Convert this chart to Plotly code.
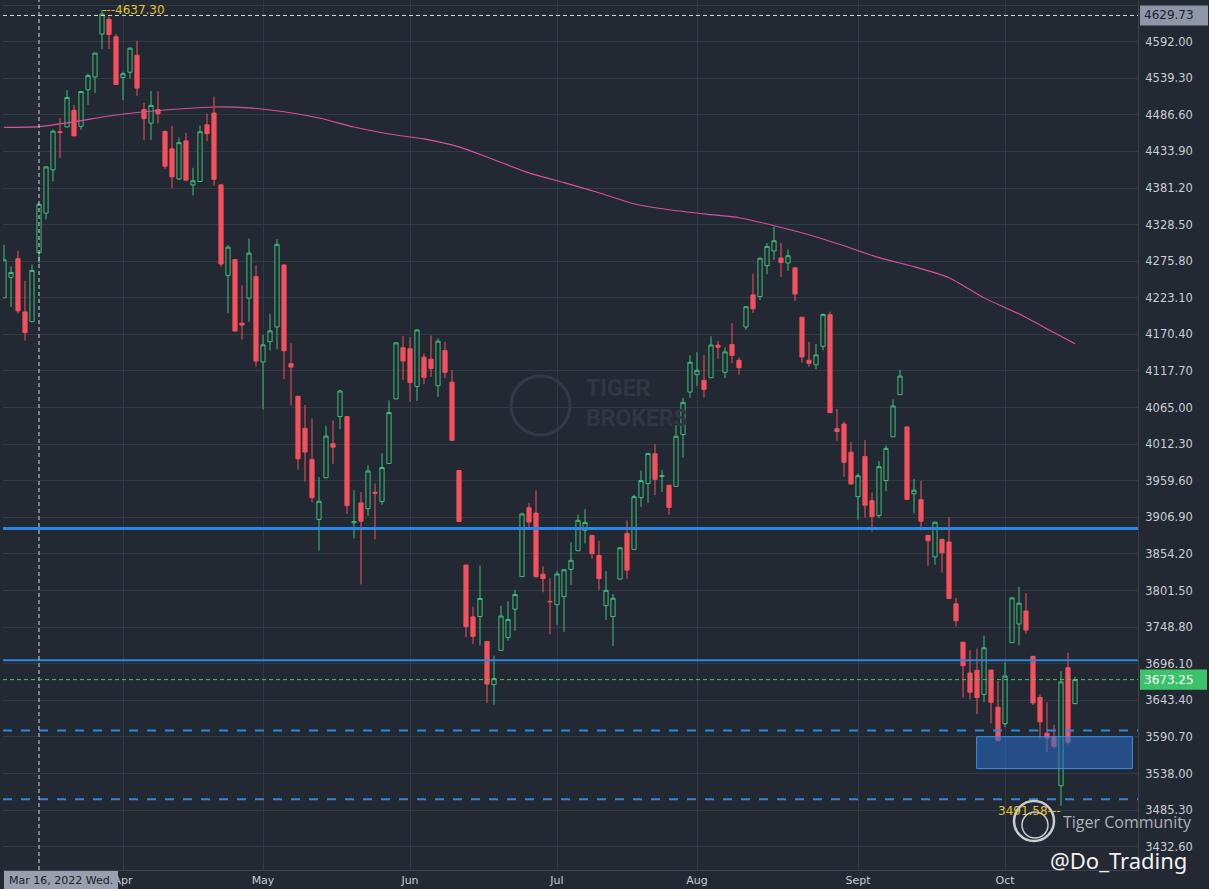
import plotly.graph_objects as go

# ---------------- data ----------------
dates = [
    "2022-03-09", "2022-03-10", "2022-03-11", "2022-03-14", "2022-03-15", "2022-03-16", "2022-03-17", "2022-03-18",
    "2022-03-21", "2022-03-22", "2022-03-23", "2022-03-24", "2022-03-25", "2022-03-28", "2022-03-29", "2022-03-30",
    "2022-03-31",
    "2022-04-01", "2022-04-04", "2022-04-05", "2022-04-06", "2022-04-07", "2022-04-08", "2022-04-11", "2022-04-12",
    "2022-04-13", "2022-04-14", "2022-04-18", "2022-04-19", "2022-04-20", "2022-04-21", "2022-04-22", "2022-04-25",
    "2022-04-26", "2022-04-27", "2022-04-28", "2022-04-29",
    "2022-05-02", "2022-05-03", "2022-05-04", "2022-05-05", "2022-05-06", "2022-05-09", "2022-05-10", "2022-05-11",
    "2022-05-12", "2022-05-13", "2022-05-16", "2022-05-17", "2022-05-18", "2022-05-19", "2022-05-20", "2022-05-23",
    "2022-05-24", "2022-05-25", "2022-05-26", "2022-05-27", "2022-05-31",
    "2022-06-01", "2022-06-02", "2022-06-03", "2022-06-06", "2022-06-07", "2022-06-08", "2022-06-09", "2022-06-10",
    "2022-06-13", "2022-06-14", "2022-06-15", "2022-06-16", "2022-06-17", "2022-06-21", "2022-06-22", "2022-06-23",
    "2022-06-24", "2022-06-27", "2022-06-28", "2022-06-29", "2022-06-30",
    "2022-07-01", "2022-07-05", "2022-07-06", "2022-07-07", "2022-07-08", "2022-07-11", "2022-07-12", "2022-07-13",
    "2022-07-14", "2022-07-15", "2022-07-18", "2022-07-19", "2022-07-20", "2022-07-21", "2022-07-22", "2022-07-25",
    "2022-07-26", "2022-07-27", "2022-07-28", "2022-07-29",
    "2022-08-01", "2022-08-02", "2022-08-03", "2022-08-04", "2022-08-05", "2022-08-08", "2022-08-09", "2022-08-10",
    "2022-08-11", "2022-08-12", "2022-08-15", "2022-08-16", "2022-08-17", "2022-08-18", "2022-08-19", "2022-08-22",
    "2022-08-23", "2022-08-24", "2022-08-25", "2022-08-26", "2022-08-29", "2022-08-30", "2022-08-31",
    "2022-09-01", "2022-09-02", "2022-09-06", "2022-09-07", "2022-09-08", "2022-09-09", "2022-09-12", "2022-09-13",
    "2022-09-14", "2022-09-15", "2022-09-16", "2022-09-19", "2022-09-20", "2022-09-21", "2022-09-22", "2022-09-23",
    "2022-09-26", "2022-09-27", "2022-09-28", "2022-09-29", "2022-09-30",
    "2022-10-03", "2022-10-04", "2022-10-05", "2022-10-06", "2022-10-07", "2022-10-10", "2022-10-11", "2022-10-12",
    "2022-10-13", "2022-10-14", "2022-10-17",
]

opens = [
    4223.10, 4252.55, 4279.50, 4202.75, 4188.82, 4288.14, 4345.11, 4407.34,
    4462.40, 4469.10, 4493.10, 4469.98, 4522.66, 4541.09, 4602.86, 4624.20,
    4599.02,
    4540.32, 4547.97, 4572.45, 4494.17, 4474.65, 4494.15, 4462.64, 4437.59,
    4394.30, 4449.12, 4385.63, 4390.63, 4472.26, 4489.17, 4385.83, 4255.34,
    4278.14, 4186.52, 4222.58, 4253.75,
    4130.61, 4159.78, 4181.18, 4270.43, 4128.17, 4081.27, 4035.18, 3990.08,
    3903.95, 3963.90, 4013.02, 4052.00, 4051.98, 3899.00, 3927.76, 3919.42,
    3942.94, 3929.59, 3984.60, 4077.43, 4151.09,
    4149.78, 4095.41, 4137.57, 4134.72, 4096.47, 4147.12, 4101.65, 3974.39,
    3838.15, 3763.52, 3764.05, 3728.18, 3665.90, 3715.31, 3733.89, 3774.71,
    3821.75, 3920.76, 3913.00, 3825.09, 3785.99,
    3781.00, 3792.61, 3831.98, 3858.85, 3888.26, 3880.94, 3851.95, 3779.67,
    3763.99, 3818.00, 3883.79, 3860.73, 3935.32, 3955.47, 3998.43, 3965.72,
    3953.22, 3951.43, 4026.13, 4087.33,
    4112.38, 4104.21, 4107.96, 4154.85, 4115.87, 4155.93, 4133.11, 4181.02,
    4227.40, 4225.02, 4269.37, 4290.46, 4280.40, 4273.13, 4266.31, 4195.08,
    4133.09, 4126.55, 4153.26, 4198.74, 4034.58, 4041.25, 4000.67,
    3936.73, 3994.66, 3930.89, 3909.43, 3959.94, 4022.94, 4083.67, 4037.12,
    3940.73, 3932.41, 3880.95, 3849.91, 3875.23, 3871.40, 3782.36, 3727.14,
    3682.72, 3686.44, 3651.94, 3687.01, 3633.48,
    3609.78, 3726.46, 3753.25, 3771.97, 3706.74, 3647.51, 3595.86, 3590.83,
    3520.37, 3690.41, 3638.65,
]

highs = [
    4299.40, 4268.28, 4291.01, 4247.57, 4271.05, 4357.86, 4412.67, 4465.40,
    4481.75, 4522.00, 4501.07, 4520.58, 4546.03, 4575.65, 4637.30, 4627.77,
    4603.07,
    4548.70, 4583.50, 4593.45, 4503.94, 4521.16, 4520.41, 4464.35, 4471.00,
    4453.92, 4460.46, 4410.31, 4471.03, 4488.29, 4512.94, 4385.83, 4299.02,
    4278.14, 4240.71, 4308.45, 4269.68,
    4169.81, 4200.10, 4307.66, 4270.43, 4157.69, 4081.27, 4068.82, 4049.09,
    3964.80, 4038.88, 4046.46, 4090.72, 4051.98, 3945.96, 3943.42, 3981.88,
    3955.68, 3999.33, 4075.14, 4158.49, 4168.34,
    4166.54, 4177.51, 4142.67, 4168.78, 4164.86, 4160.14, 4119.10, 3974.39,
    3838.15, 3778.18, 3837.56, 3728.18, 3707.71, 3779.65, 3785.99, 3802.58,
    3913.65, 3927.72, 3945.86, 3836.50, 3818.99,
    3829.82, 3832.19, 3870.91, 3910.63, 3918.50, 3880.94, 3873.41, 3829.44,
    3796.41, 3863.62, 3902.44, 3939.81, 3974.13, 3999.29, 4012.44, 3975.30,
    3953.22, 4039.56, 4078.95, 4140.15,
    4144.95, 4140.47, 4167.66, 4161.29, 4151.58, 4186.62, 4137.30, 4211.03,
    4257.91, 4280.47, 4301.79, 4325.28, 4302.18, 4292.53, 4266.31, 4195.08,
    4159.77, 4156.56, 4200.54, 4203.04, 4062.99, 4044.98, 4015.37,
    3970.23, 4018.43, 3942.55, 3987.89, 4010.50, 4076.81, 4119.28, 4037.12,
    3961.94, 3959.14, 3880.95, 3900.45, 3876.01, 3907.07, 3790.93, 3727.14,
    3715.67, 3717.53, 3736.74, 3687.01, 3671.44,
    3698.35, 3790.93, 3806.91, 3797.93, 3706.74, 3652.17, 3640.66, 3608.34,
    3685.41, 3712.00, 3677.00,
]

lows = [
    4223.10, 4209.80, 4200.49, 4161.72, 4187.90, 4272.85, 4335.65, 4390.57,
    4424.30, 4469.10, 4455.81, 4465.17, 4501.07, 4517.69, 4581.32, 4581.32,
    4530.41,
    4507.57, 4539.21, 4514.17, 4450.04, 4450.30, 4474.60, 4408.38, 4381.34,
    4392.70, 4390.77, 4370.30, 4390.63, 4448.76, 4384.47, 4267.62, 4200.82,
    4175.04, 4162.90, 4188.63, 4124.28,
    4062.51, 4147.08, 4148.91, 4106.01, 4067.91, 3975.48, 3958.17, 3928.82,
    3858.87, 3963.90, 3983.99, 4033.93, 3911.91, 3876.58, 3810.32, 3909.04,
    3875.13, 3925.03, 3984.60, 4077.43, 4104.88,
    4073.85, 4074.37, 4098.67, 4109.18, 4080.19, 4107.20, 4017.17, 3900.16,
    3734.30, 3724.36, 3722.30, 3639.77, 3636.87, 3715.31, 3729.25, 3743.52,
    3821.75, 3889.66, 3820.14, 3799.02, 3738.67,
    3752.10, 3742.06, 3809.37, 3858.85, 3869.34, 3847.22, 3802.36, 3759.07,
    3721.56, 3817.18, 3818.63, 3860.73, 3922.03, 3927.64, 3938.85, 3943.46,
    3910.74, 3951.43, 3992.97, 4079.22,
    4096.02, 4079.81, 4107.96, 4135.42, 4107.31, 4128.97, 4112.09, 4177.26,
    4201.41, 4219.78, 4256.90, 4277.77, 4253.08, 4261.98, 4218.70, 4129.86,
    4124.03, 4119.97, 4147.59, 4057.66, 4017.42, 3965.21, 3954.53,
    3903.65, 3906.21, 3886.75, 3906.03, 3944.81, 4022.94, 4083.67, 3932.69,
    3912.51, 3888.28, 3837.08, 3838.50, 3827.54, 3789.49, 3749.45, 3647.47,
    3644.76, 3623.29, 3640.61, 3610.40, 3584.13,
    3604.93, 3726.46, 3722.66, 3739.22, 3636.66, 3588.10, 3568.45, 3573.86,
    3491.58, 3579.68, 3638.65,
]

closes = [
    4277.88, 4259.52, 4204.31, 4173.11, 4262.45, 4357.86, 4411.67, 4463.12,
    4461.18, 4511.61, 4456.24, 4520.16, 4543.06, 4575.52, 4631.60, 4602.45,
    4530.41,
    4545.86, 4582.64, 4525.12, 4481.15, 4500.21, 4488.28, 4412.53, 4397.45,
    4446.59, 4392.59, 4391.69, 4462.21, 4459.45, 4393.66, 4271.78, 4296.12,
    4175.20, 4183.96, 4287.50, 4131.93,
    4155.38, 4175.48, 4300.17, 4146.87, 4123.34, 3991.24, 4001.05, 3935.18,
    3930.08, 4023.89, 4008.01, 4088.85, 3923.68, 3900.79, 3901.36, 3973.75,
    3941.48, 3978.73, 4057.84, 4158.24, 4132.15,
    4101.23, 4176.82, 4108.54, 4121.43, 4160.68, 4115.77, 4017.82, 3900.86,
    3749.63, 3735.48, 3789.99, 3666.77, 3674.84, 3764.79, 3759.89, 3795.73,
    3911.74, 3900.11, 3821.55, 3818.83, 3785.38,
    3825.33, 3831.39, 3845.08, 3902.62, 3899.38, 3854.43, 3818.80, 3801.78,
    3790.38, 3863.16, 3830.85, 3936.69, 3959.90, 3998.95, 3961.63, 3966.84,
    3921.05, 4023.61, 4072.43, 4130.29,
    4118.63, 4091.19, 4155.17, 4151.94, 4145.19, 4140.06, 4122.47, 4210.24,
    4207.27, 4280.15, 4297.14, 4305.20, 4274.04, 4283.74, 4228.48, 4137.99,
    4128.73, 4140.77, 4199.12, 4057.66, 4030.61, 3986.16, 3955.00,
    3966.85, 3924.26, 3908.19, 3979.87, 4006.18, 4067.36, 4110.41, 3932.69,
    3946.01, 3901.35, 3873.33, 3899.89, 3855.93, 3789.93, 3757.99, 3693.23,
    3655.04, 3647.29, 3719.04, 3640.47, 3585.62,
    3678.43, 3790.93, 3783.28, 3744.52, 3639.66, 3612.39, 3588.84, 3577.03,
    3669.91, 3583.07, 3673.25,
]

# 200-day moving average, read at weekly sample dates
ma_dates = [
    "2022-03-09", "2022-03-16", "2022-03-23", "2022-03-30", "2022-04-06", "2022-04-13", "2022-04-21", "2022-04-28",
    "2022-05-05", "2022-05-12", "2022-05-19", "2022-05-26", "2022-06-03", "2022-06-10", "2022-06-17", "2022-06-27",
    "2022-07-05", "2022-07-12", "2022-07-19", "2022-07-26", "2022-08-02", "2022-08-09", "2022-08-16", "2022-08-23",
    "2022-08-30", "2022-09-07", "2022-09-14", "2022-09-21", "2022-09-28", "2022-10-05", "2022-10-12", "2022-10-17",
]
ma_values = [
    4468.5, 4469.7, 4476.5, 4485.0, 4491.0, 4495.0, 4498.0, 4496.6,
    4491.0, 4482.0, 4469.0, 4459.0, 4452.0, 4440.5, 4422.0, 4403.0,
    4389.0, 4374.5, 4358.6, 4350.0, 4344.0, 4338.5, 4327.0, 4314.0,
    4298.0, 4281.0, 4268.0, 4252.0, 4223.0, 4200.0, 4173.0, 4157.0,
]

# price levels drawn on the chart
support_solid_thick = 3891.0
support_solid = 3701.0
support_dashed = [3600.0, 3501.0]
zone_low, zone_high = 3545.0, 3591.0
zone_start, zone_end = "2022-09-27", "2022-10-17"
crosshair_date = "2022-03-16"
crosshair_price = 4629.73
last_price = 3673.25
high_label = ("2022-03-29", 4637.30)
low_label = ("2022-10-13", 3491.58)

y_ticks = [3432.60, 3485.30, 3538.00, 3590.70, 3643.40, 3696.10, 3748.80, 3801.50, 3854.20, 3906.90,
           3959.60, 4012.30, 4065.00, 4117.70, 4170.40, 4223.10, 4275.80, 4328.50, 4381.20, 4433.90,
           4486.60, 4539.30, 4592.00, 4644.70]
month_labels = {"04": "Apr", "05": "May", "06": "Jun", "07": "Jul", "08": "Aug", "09": "Sept", "10": "Oct"}

# ---------------- figure ----------------
BG = "#232933"
GRID = "#313946"
RED = "#f5505c"
GREEN = "#3fbf78"
BLUE = "#2f86e0"
AXIS_FONT = "DejaVu Sans"

idx = {d: i for i, d in enumerate(dates)}
xs = list(range(len(dates)))

month_pos, month_txt = [], []
seen = set()
for i, d in enumerate(dates):
    m = d[5:7]
    if m in month_labels and m not in seen:
        seen.add(m)
        month_pos.append(i)
        month_txt.append(month_labels[m])

fig = go.Figure()
fig.add_trace(go.Candlestick(
    x=xs, open=opens, high=highs, low=lows, close=closes,
    increasing=dict(line=dict(color=GREEN, width=1), fillcolor=BG),
    decreasing=dict(line=dict(color=RED, width=1), fillcolor=RED),
    whiskerwidth=0, showlegend=False, hoverinfo="skip",
))
fig.add_trace(go.Scatter(
    x=[idx[d] for d in ma_dates], y=ma_values, mode="lines",
    line=dict(color="#d9509a", width=1.1, shape="spline", smoothing=0.6),
    showlegend=False, hoverinfo="skip",
))

shapes = []
shapes.append(dict(type="line", xref="paper", x0=0, x1=1, yref="y", y0=support_solid_thick, y1=support_solid_thick,
                   line=dict(color=BLUE, width=3), layer="above"))
shapes.append(dict(type="line", xref="paper", x0=0, x1=1, yref="y", y0=support_solid, y1=support_solid,
                   line=dict(color=BLUE, width=2), layer="above"))
for v in support_dashed:
    shapes.append(dict(type="line", xref="paper", x0=0, x1=1, yref="y", y0=v, y1=v,
                       line=dict(color=BLUE, width=2, dash="dash"), layer="above"))
shapes.append(dict(type="rect", xref="x", yref="y", x0=idx[zone_start] - 0.05, x1=idx[zone_end] + 8.2,
                   y0=zone_low, y1=zone_high, fillcolor="rgba(38,110,200,0.55)",
                   line=dict(color="#3d8fe8", width=1), layer="above"))
# crosshair
shapes.append(dict(type="line", xref="x", x0=idx[crosshair_date], x1=idx[crosshair_date], yref="paper", y0=0, y1=1,
                   line=dict(color="#d6dae0", width=1, dash="4px,3px"), layer="above"))
shapes.append(dict(type="line", xref="paper", x0=0, x1=1, yref="y", y0=crosshair_price, y1=crosshair_price,
                   line=dict(color="#d6dae0", width=1, dash="4px,3px"), layer="above"))
# last price
shapes.append(dict(type="line", xref="paper", x0=0, x1=1, yref="y", y0=last_price, y1=last_price,
                   line=dict(color="#3fc46e", width=1, dash="4px,3px"), layer="above"))

PLOT_L, PLOT_R, PLOT_T, PLOT_B = 3, 1138, 0, 870


def px_x(p):
    return (p - PLOT_L) / float(PLOT_R - PLOT_L)


def px_y(p):
    return 1 - (p - PLOT_T) / float(PLOT_B - PLOT_T)


# value boxes on the price axis (background rectangles)
shapes.append(dict(type="rect", xref="paper", yref="y", x0=px_x(1140), x1=px_x(1208),
                   y0=crosshair_price - 14.5, y1=crosshair_price + 14.5,
                   fillcolor="#8e97a7", line=dict(width=0), layer="above"))
shapes.append(dict(type="rect", xref="paper", yref="y", x0=px_x(1140), x1=px_x(1207),
                   y0=last_price - 14.5, y1=last_price + 14.5,
                   fillcolor="#3cc36a", line=dict(width=0), layer="above"))
shapes.append(dict(type="rect", xref="paper", yref="paper", x0=px_x(4), x1=px_x(118),
                   y0=px_y(889), y1=px_y(871), fillcolor="#98a0ad", line=dict(width=0), layer="above"))

# watermark logos (circles)
shapes.append(dict(type="circle", xref="paper", yref="paper", x0=px_x(511), x1=px_x(570), y0=px_y(435), y1=px_y(376),
                   line=dict(color="#323a47", width=3), layer="below"))
shapes.append(dict(type="circle", xref="paper", yref="paper", x0=px_x(1014), x1=px_x(1054), y0=px_y(841), y1=px_y(801),
                   line=dict(color="#c9ccd1", width=2.5), layer="above"))
shapes.append(dict(type="circle", xref="paper", yref="paper", x0=px_x(1022), x1=px_x(1048), y0=px_y(838), y1=px_y(812),
                   line=dict(color="#c9ccd1", width=1.5), layer="above"))

annotations = [
    dict(x=idx[high_label[0]], y=high_label[1], xref="x", yref="y", text="---" + f"{high_label[1]:.2f}",
         showarrow=False, xanchor="left", yanchor="middle", xshift=-2,
         font=dict(color="#e3c42a", size=12, family=AXIS_FONT)),
    dict(x=idx[low_label[0]], y=low_label[1], xref="x", yref="y", text=f"{low_label[1]:.2f}" + "---",
         showarrow=False, xanchor="right", yanchor="middle", xshift=2, yshift=-5,
         font=dict(color="#e3c42a", size=12, family=AXIS_FONT)),
    # axis value box texts
    dict(x=px_x(1142), y=crosshair_price, xref="paper", yref="y", text=f"{crosshair_price:.2f}", showarrow=False,
         xanchor="left", yanchor="middle",
         font=dict(color="#1c212b", size=12, family=AXIS_FONT)),
    dict(x=px_x(1142), y=last_price, xref="paper", yref="y", text=f"{last_price:.2f}", showarrow=False,
         xanchor="left", yanchor="middle",
         font=dict(color="#ffffff", size=12, family=AXIS_FONT)),
    dict(x=px_x(7), y=px_y(880), xref="paper", yref="paper", text="Mar 16, 2022 Wed.", showarrow=False,
         xanchor="left", yanchor="middle",
         font=dict(color="#1c212b", size=11, family=AXIS_FONT)),
    # watermarks
    dict(x=px_x(584), y=px_y(404), xref="paper", yref="paper", text="<b>TIGER<br>BROKERS</b>", showarrow=False,
         xanchor="left", yanchor="middle", align="left",
         font=dict(color="#2f3743", size=23, family="Roboto")),
    dict(x=px_x(1061), y=px_y(822), xref="paper", yref="paper", text="Tiger Community", showarrow=False,
         xanchor="left", yanchor="middle", font=dict(color="#aeb3ba", size=16, family="Open Sans")),
    dict(x=px_x(1048), y=px_y(860), xref="paper", yref="paper", text="@Do_Trading", showarrow=False,
         xanchor="left", yanchor="middle", font=dict(color="#f2f2f2", size=22, family="Noto Sans")),
]

fig.update_layout(
    width=1209, height=889,
    margin=dict(l=PLOT_L, r=1209 - PLOT_R, t=PLOT_T, b=889 - PLOT_B),
    paper_bgcolor=BG, plot_bgcolor=BG,
    shapes=shapes, annotations=annotations,
    showlegend=False, boxgap=0.15,
    font=dict(family=AXIS_FONT, size=12, color="#c8cdd4"),
    xaxis=dict(
        range=[-0.143, 162.0], tickmode="array", tickvals=month_pos, ticktext=month_txt,
        showgrid=True, gridcolor=GRID, gridwidth=1, zeroline=False, automargin=False,
        showline=True, linecolor="#3a4250", ticks="", rangeslider=dict(visible=False),
        tickfont=dict(size=11, color="#c8cdd4", family=AXIS_FONT), ticklabelstandoff=0,
    ),
    yaxis=dict(
        range=[3399.0, 4652.0], side="right", tickmode="array", tickvals=y_ticks,
        ticktext=[f"{v:.2f}" for v in y_ticks], automargin=False,
        showgrid=True, gridcolor=GRID, gridwidth=1, zeroline=False,
        showline=True, linecolor="#3a4250", ticks="", ticklabelstandoff=4,
        tickfont=dict(size=11.5, color="#c8cdd4", family=AXIS_FONT),
    ),
)

fig.write_html(
    "out.html",
    config={"displayModeBar": False},
    post_script="document.body.style.margin='0';document.body.style.background='#232933';",
)
